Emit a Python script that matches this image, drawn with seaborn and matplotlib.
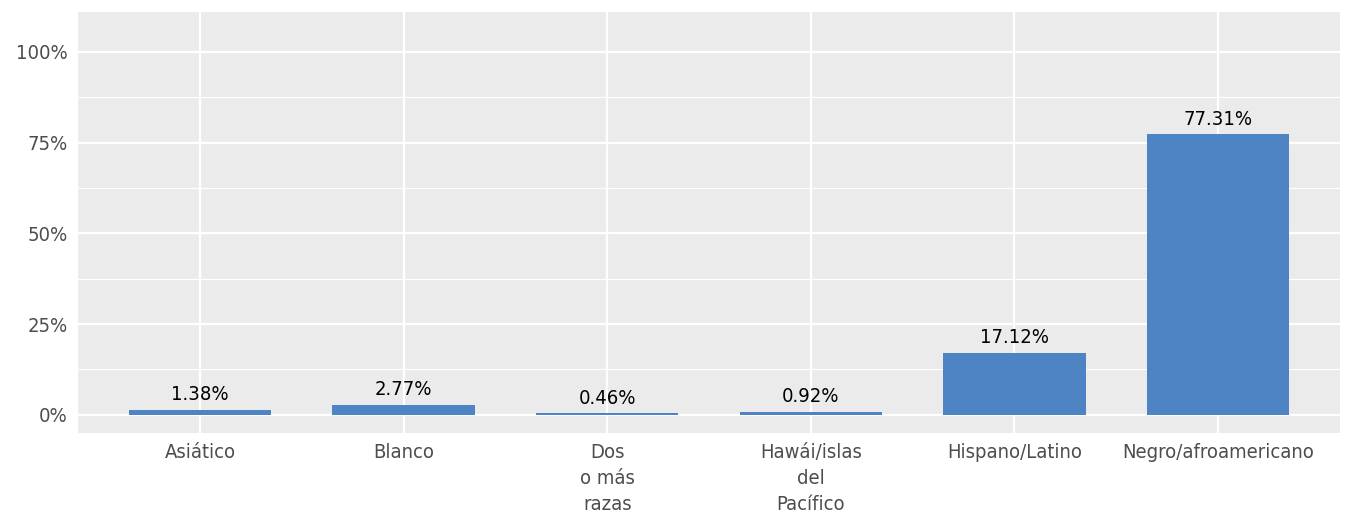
import matplotlib
matplotlib.use("Agg")
import matplotlib.pyplot as plt
import seaborn as sns
import pandas as pd

categories = ["Asiático", "Blanco", "Dos\no más\nrazas", "Hawái/islas\ndel\nPacífico", "Hispano/Latino", "Negro/afroamericano"]
values = [1.38, 2.77, 0.46, 0.92, 17.12, 77.31]
yticks = [0, 25, 50, 75, 100]
ytick_labels = ["0%", "25%", "50%", "75%", "100%"]

df = pd.DataFrame({"cat": categories, "val": values})

sns.set_theme(style="darkgrid")
plt.rcParams['font.family'] = ['DejaVu Sans']
plt.rcParams['font.stretch'] = 'condensed'

fig = plt.figure(figsize=(13.45, 5.27), dpi=100)
ax = fig.add_axes([78/1345, 1-433/527, (1340-78)/1345, (433-12)/527])
ax.set_facecolor("#EBEBEB")
sns.barplot(data=df, x="cat", y="val", color="#4E84C4", width=0.7, saturation=1,
            edgecolor="none", linewidth=0, ax=ax, zorder=3)
ax.set_xlim(-0.6, 5.6)
ax.set_ylim(-5, 111)
ax.set_yticks(yticks)
ax.set_yticklabels(ytick_labels)
ax.set_yticks([12.5, 37.5, 62.5, 87.5], minor=True)
ax.grid(True, which="major", color="white", linewidth=1.6, zorder=0)
ax.grid(True, which="minor", axis="y", color="white", linewidth=0.8, zorder=0)
ax.set_axisbelow(True)
for s in ax.spines.values():
    s.set_visible(False)
ax.tick_params(axis="both", which="major", length=4, color="#333333", labelsize=14.5, labelcolor="#4D4D4D", width=1)
ax.tick_params(axis="y", which="minor", length=0)
for lbl in ax.get_xticklabels():
    lbl.set_linespacing(1.45)
ax.set_xlabel("")
ax.set_ylabel("")
for i, v in enumerate(values):
    ax.text(i, v + 1.5, f"{v:.2f}%", ha="center", va="bottom", fontsize=14.5, color="black")
fig.savefig("out.png", dpi=100)
